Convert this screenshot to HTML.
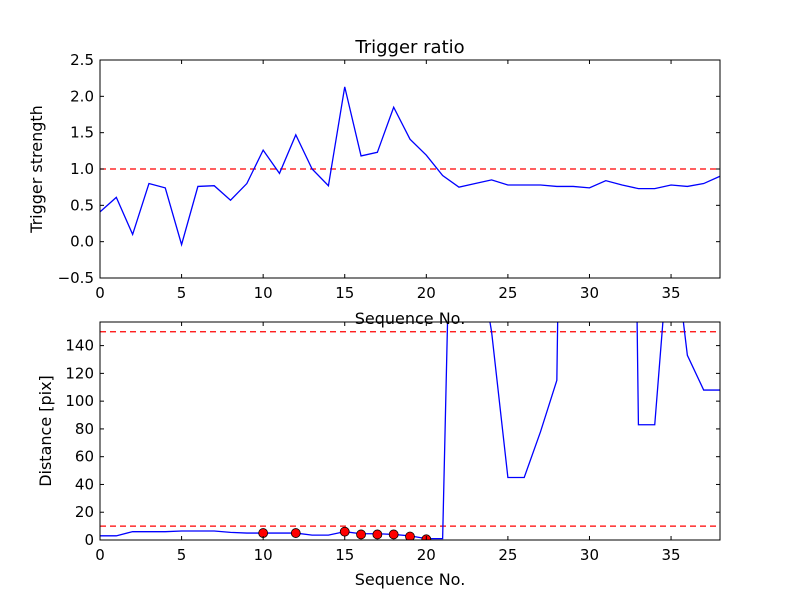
<!DOCTYPE html>
<html><head><meta charset="utf-8"><style>
body{margin:0;background:#fff}
svg{display:block;font-family:"DejaVu Sans","Liberation Sans",sans-serif}
</style></head><body>
<svg id="c" width="800" height="600" viewBox="0 0 800 600"></svg>
<script>
const seq = [];
for (let i = 0; i <= 38; i++) seq.push(i);
const triggerStrength = [0.41,0.61,0.1,0.8,0.74,-0.04,0.76,0.77,0.57,0.8,1.26,0.94,1.47,1.0,0.77,2.13,1.18,1.23,1.85,1.41,1.19,0.91,0.75,0.8,0.85,0.78,0.78,0.78,0.76,0.76,0.74,0.84,0.78,0.73,0.73,0.78,0.76,0.8,0.9];
const distance = [3,3,6,6,6,6.5,6.5,6.5,5.5,5,5,5,5,3.5,3.5,6,4.5,4.5,4,3,1,1,520,220,150,45,45,78,115,955,1000,1000,1000,83,83,231,133,108,108];
const markerX = [10,12,15,16,17,18,19,20];
const markerY = [5,5,6,4,4,4,2.5,0.5];
const xTicks = [0,5,10,15,20,25,30,35];
const topYTicks = [-0.5,0.0,0.5,1.0,1.5,2.0,2.5];
const topYLabels = ["\u22120.5","0.0","0.5","1.0","1.5","2.0","2.5"];
const botYTicks = [0,20,40,60,80,100,120,140];
const topThreshold = [1.0];
const botThresholds = [10,150];

const svg = document.getElementById('c');
const NS = 'http://www.w3.org/2000/svg';
function mk(tag, attrs, parent){const e=document.createElementNS(NS,tag);for(const k in attrs)e.setAttribute(k,attrs[k]);(parent||svg).appendChild(e);return e;}

const L=100,R=720;
const xs = v => L + (v-0)/(38-0)*(R-L);
const topP = {t:60,b:278,min:-0.5,max:2.5};
const botP = {t:322,b:540,min:0,max:157};
const ysT = v => topP.b - (v-topP.min)/(topP.max-topP.min)*(topP.b-topP.t);
const ysB = v => botP.b - (v-botP.min)/(botP.max-botP.min)*(botP.b-botP.t);

const defs = mk('defs',{});
const cp = mk('clipPath',{id:'cb'},defs);
mk('rect',{x:L,y:botP.t,width:R-L,height:botP.b-botP.t},cp);
const cp2 = mk('clipPath',{id:'ct'},defs);
mk('rect',{x:L,y:topP.t,width:R-L,height:topP.b-topP.t},cp2);

function axes(p, ys, ticks, labels, name){
  const g = mk('g',{});
  
  
  xTicks.forEach(v=>{
    const x=xs(v);
    mk('line',{x1:x,x2:x,y1:p.b,y2:p.b-4,stroke:'#000'},g);
    mk('line',{x1:x,x2:x,y1:p.t,y2:p.t+4,stroke:'#000'},g);
    const t=mk('text',{x:x,y:p.b+20,'text-anchor':'middle','font-size':15},g);
    t.textContent=v;
    
    
  });
  ticks.forEach((v,i)=>{
    const y=ys(v);
    mk('line',{x1:L,x2:L+4,y1:y,y2:y,stroke:'#000'},g);
    mk('line',{x1:R,x2:R-4,y1:y,y2:y,stroke:'#000'},g);
    const t=mk('text',{x:L-6,y:y+5,'text-anchor':'end','font-size':15},g);
    t.textContent=labels?labels[i]:v;
    
    
  });
  return g;
}

topThreshold.forEach(v=>{
  const l=mk('line',{x1:L,x2:R,y1:ysT(v),y2:ysT(v),stroke:'#f00','stroke-width':1.3,'stroke-dasharray':'6,4'});
  
  
});
const p1 = mk('polyline',{points:seq.map((s,i)=>xs(s)+','+ysT(triggerStrength[i])).join(' '),fill:'none',stroke:'#00f','stroke-width':1.3,'clip-path':'url(#ct)'});


mk('rect',{x:L,y:topP.t,width:R-L,height:topP.b-topP.t,fill:'none',stroke:'#000'});
axes(topP, ysT, topYTicks, topYLabels, 'top-axes');

botThresholds.forEach(v=>{
  const l=mk('line',{x1:L,x2:R,y1:ysB(v),y2:ysB(v),stroke:'#f00','stroke-width':1.3,'stroke-dasharray':'6,4'});
  
  
});
const p2 = mk('polyline',{points:seq.map((s,i)=>xs(s)+','+ysB(distance[i])).join(' '),fill:'none',stroke:'#00f','stroke-width':1.3,'clip-path':'url(#cb)'});


const mg = mk('g',{'clip-path':'url(#cb)'});
markerX.forEach((x,i)=>{
  const c=mk('circle',{cx:xs(x),cy:ysB(markerY[i]),r:4.5,fill:'#f00',stroke:'#000','stroke-width':0.8},mg);
  
  
});
mk('rect',{x:L,y:botP.t,width:R-L,height:botP.b-botP.t,fill:'none',stroke:'#000'});
axes(botP, ysB, botYTicks, null, 'bottom-axes');

function label(txt,x,y,size,name,rot){
  const t=mk('text',{x:x,y:y,'text-anchor':'middle','font-size':size});
  if(rot) t.setAttribute('transform','rotate(-90 '+x+' '+y+')');
  t.textContent=txt;
  
  
}
label('Trigger ratio',410,53,18,'chart-title');
label('Sequence No.',410,324,16,'top-x-axis-title');
label('Trigger strength',42,169,16,'top-y-axis-title',true);
label('Sequence No.',410,585,16,'bottom-x-axis-title');
label('Distance [pix]',51,431,16,'bottom-y-axis-title',true);
</script>
</body></html>
